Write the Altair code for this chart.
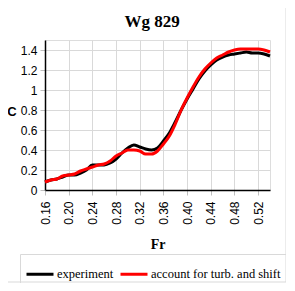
import altair as alt
import pandas as pd

fr = [0.16, 0.17, 0.18, 0.19, 0.20, 0.21, 0.22, 0.23, 0.24, 0.25,
      0.26, 0.27, 0.28, 0.29, 0.30, 0.31, 0.32, 0.33, 0.34, 0.35,
      0.36, 0.37, 0.38, 0.39, 0.40, 0.41, 0.42, 0.43, 0.44, 0.45,
      0.46, 0.47, 0.48, 0.49, 0.50, 0.51, 0.52, 0.53, 0.54]

experiment = [0.08, 0.10, 0.11, 0.13, 0.15, 0.15, 0.17, 0.20, 0.25, 0.25,
              0.25, 0.27, 0.31, 0.37, 0.42, 0.45, 0.43, 0.41, 0.40, 0.42,
              0.49, 0.57, 0.68, 0.80, 0.91, 1.01, 1.11, 1.19, 1.25, 1.30,
              1.33, 1.35, 1.36, 1.37, 1.38, 1.37, 1.37, 1.36, 1.34]

account = [0.08, 0.10, 0.11, 0.14, 0.15, 0.16, 0.19, 0.21, 0.23, 0.25,
           0.26, 0.29, 0.34, 0.37, 0.40, 0.40, 0.39, 0.36, 0.36, 0.39,
           0.46, 0.54, 0.66, 0.80, 0.92, 1.03, 1.13, 1.21, 1.27, 1.32,
           1.35, 1.38, 1.40, 1.41, 1.41, 1.41, 1.41, 1.40, 1.38]

series_names = ["experiment", "account for turb. and shift"]
series_colors = ["#000000", "#ff0000"]
x_ticks = [0.16, 0.20, 0.24, 0.28, 0.32, 0.36, 0.40, 0.44, 0.48, 0.52]
y_ticks = [0, 0.2, 0.4, 0.6, 0.8, 1.0, 1.2, 1.4]
chart_title = "Wg 829"
y_title = "C"
x_title = "Fr"

rows = []
for i, name in enumerate(series_names):
    vals = experiment if i == 0 else account
    for f, c in zip(fr, vals):
        rows.append({"Fr": f, "C": c, "series": name, "order": i})
df = pd.DataFrame(rows)
one = pd.DataFrame({"title": [chart_title], "ytitle": [y_title]})

lines = alt.Chart(df).mark_line(strokeWidth=3, interpolate="monotone").encode(
    x=alt.X("Fr:Q",
            scale=alt.Scale(domain=[0.16, 0.54], nice=False, zero=False),
            axis=alt.Axis(values=x_ticks, format=".2f", labelAngle=270,
                          title=x_title, titleFont="Liberation Serif",
                          titleFontSize=14, titleFontWeight="bold",
                          titleY=58, titleBaseline="alphabetic",
                          labelFont="Liberation Sans", labelFontSize=12,
                          labelColor="black", labelPadding=6,
                          tickSize=5, tickColor="#bfbfbf",
                          domainColor="black", domainWidth=1.5,
                          gridColor="#d9d9d9")),
    y=alt.Y("C:Q",
            scale=alt.Scale(domain=[0, 1.5], nice=False),
            axis=alt.Axis(values=y_ticks, format="~g", title=None,
                          labelFont="Liberation Sans", labelFontSize=12,
                          labelColor="black", labelPadding=3,
                          tickSize=5, tickColor="#bfbfbf",
                          domainColor="black", domainWidth=1.5,
                          gridColor="#d9d9d9")),
    color=alt.Color("series:N",
                    scale=alt.Scale(domain=series_names, range=series_colors),
                    sort=series_names,
                    legend=alt.Legend(orient="none", legendX=-25, legendY=214,
                                      direction="horizontal", title=None,
                                      symbolType="stroke", symbolSize=729,
                                      symbolStrokeWidth=3,
                                      labelFont="Liberation Serif",
                                      labelFontSize=12.5, labelColor="black",
                                      labelOffset=2, columnPadding=0,
                                      strokeColor="#d9d9d9", padding=5)),
    order=alt.Order("order:Q"),
)

frame = alt.Chart(one).mark_rect(fill=None, stroke="#d9d9d9", strokeWidth=1).encode(
    x=alt.value(-41), x2=alt.value(241), y=alt.value(-37), y2=alt.value(242)
)

title_text = alt.Chart(one).mark_text(
    font="Liberation Serif", fontSize=17, fontWeight="bold",
    color="black", align="center", baseline="alphabetic"
).encode(text="title:N", x=alt.value(107), y=alt.value(-13))

c_text = alt.Chart(one).mark_text(
    font="Liberation Sans", fontSize=13, fontWeight="bold",
    color="black", align="center", baseline="middle", angle=0
).encode(text="ytitle:N", x=alt.value(-33), y=alt.value(72))

chart = alt.layer(frame, lines, title_text, c_text).properties(
    width=225, height=150,
    autosize=alt.AutoSizeParams(type="none"),
    padding={"left": 37, "top": 32, "right": 16, "bottom": 93},
).configure_view(stroke="black", strokeWidth=1).configure(background="white")

chart.save("out.html", embed_options={"renderer": "svg", "actions": False})
